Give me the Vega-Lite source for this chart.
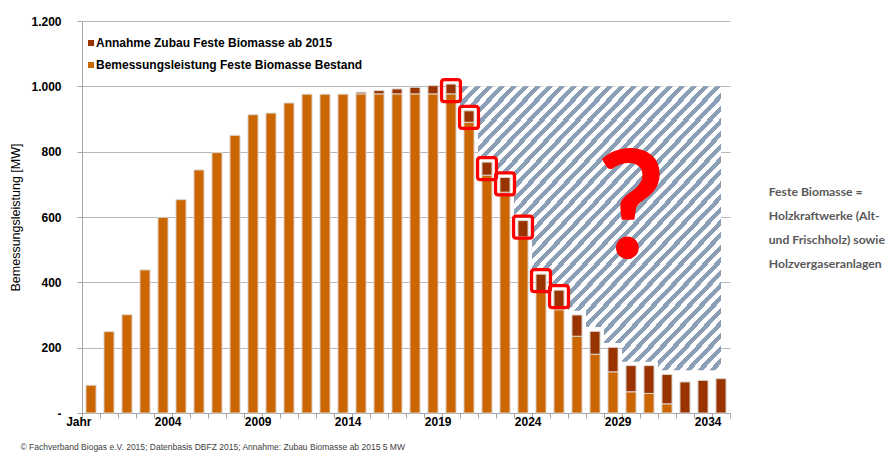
{
  "$schema": "https://vega.github.io/schema/vega-lite/v6.json",
  "width": 648,
  "height": 392,
  "autosize": {"type": "none"},
  "padding": {"left": 82, "top": 21, "right": 161, "bottom": 40},
  "background": "#ffffff",
  "title": {
    "text": ["Feste Biomasse =", "Holzkraftwerke (Alt-", "und Frischholz) sowie", "Holzvergaseranlagen"],
    "orient": "right",
    "angle": 0,
    "anchor": "middle",
    "frame": "group",
    "align": "left",
    "baseline": "middle",
    "offset": 38,
    "dx": -116,
    "dy": -25,
    "lineHeight": 24,
    "limit": 0,
    "font": "Lato",
    "fontSize": 12.2,
    "fontWeight": "bold",
    "color": "#595959"
  },
  "datasets": {
    "biomasse": [
      {"Jahr": 1999, "Bestand": 85, "Zubau": 0},
      {"Jahr": 2000, "Bestand": 249, "Zubau": 0},
      {"Jahr": 2001, "Bestand": 301, "Zubau": 0},
      {"Jahr": 2002, "Bestand": 438, "Zubau": 0},
      {"Jahr": 2003, "Bestand": 599, "Zubau": 0},
      {"Jahr": 2004, "Bestand": 653, "Zubau": 0},
      {"Jahr": 2005, "Bestand": 744, "Zubau": 0},
      {"Jahr": 2006, "Bestand": 797, "Zubau": 0},
      {"Jahr": 2007, "Bestand": 850, "Zubau": 0},
      {"Jahr": 2008, "Bestand": 913, "Zubau": 0},
      {"Jahr": 2009, "Bestand": 918, "Zubau": 0},
      {"Jahr": 2010, "Bestand": 949, "Zubau": 0},
      {"Jahr": 2011, "Bestand": 976, "Zubau": 0},
      {"Jahr": 2012, "Bestand": 976, "Zubau": 0},
      {"Jahr": 2013, "Bestand": 976, "Zubau": 0},
      {"Jahr": 2014, "Bestand": 977, "Zubau": 5},
      {"Jahr": 2015, "Bestand": 977, "Zubau": 10},
      {"Jahr": 2016, "Bestand": 977, "Zubau": 15},
      {"Jahr": 2017, "Bestand": 977, "Zubau": 20},
      {"Jahr": 2018, "Bestand": 977, "Zubau": 25},
      {"Jahr": 2019, "Bestand": 977, "Zubau": 30},
      {"Jahr": 2020, "Bestand": 890, "Zubau": 35},
      {"Jahr": 2021, "Bestand": 728, "Zubau": 40},
      {"Jahr": 2022, "Bestand": 676, "Zubau": 45},
      {"Jahr": 2023, "Bestand": 539, "Zubau": 50},
      {"Jahr": 2024, "Bestand": 370, "Zubau": 55},
      {"Jahr": 2025, "Bestand": 316, "Zubau": 60},
      {"Jahr": 2026, "Bestand": 235, "Zubau": 65},
      {"Jahr": 2027, "Bestand": 180, "Zubau": 70},
      {"Jahr": 2028, "Bestand": 126, "Zubau": 75},
      {"Jahr": 2029, "Bestand": 65, "Zubau": 80},
      {"Jahr": 2030, "Bestand": 60, "Zubau": 85},
      {"Jahr": 2031, "Bestand": 28, "Zubau": 90},
      {"Jahr": 2032, "Bestand": 0, "Zubau": 95},
      {"Jahr": 2033, "Bestand": 0, "Zubau": 100},
      {"Jahr": 2034, "Bestand": 0, "Zubau": 105}
    ],
    "schraffur": [
      {"Jahr": 2019, "unten": 1000},
      {"Jahr": 2020, "unten": 940},
      {"Jahr": 2021, "unten": 782},
      {"Jahr": 2022, "unten": 736},
      {"Jahr": 2023, "unten": 603},
      {"Jahr": 2024, "unten": 440},
      {"Jahr": 2025, "unten": 390},
      {"Jahr": 2026, "unten": 313},
      {"Jahr": 2027, "unten": 263},
      {"Jahr": 2028, "unten": 214},
      {"Jahr": 2029, "unten": 157},
      {"Jahr": 2030, "unten": 157},
      {"Jahr": 2031, "unten": 131},
      {"Jahr": 2032, "unten": 131},
      {"Jahr": 2033, "unten": 131},
      {"Jahr": 2034, "unten": 131}
    ]
  },
  "layer": [
    {
      "data": {"name": "schraffur"},
      "mark": {
        "type": "area",
        "interpolate": "step",
        "color": {
          "gradient": "linear", "x1": 0, "y1": 0, "x2": 1, "y2": 1,
          "stops": [
            {"offset": 0, "color": "#8ba0b6"},
            {"offset": 0.01111, "color": "#8ba0b6"}, {"offset": 0.01111, "color": "#fff"},
            {"offset": 0.02222, "color": "#fff"}, {"offset": 0.02222, "color": "#8ba0b6"},
            {"offset": 0.03333, "color": "#8ba0b6"}, {"offset": 0.03333, "color": "#fff"},
            {"offset": 0.04444, "color": "#fff"}, {"offset": 0.04444, "color": "#8ba0b6"},
            {"offset": 0.05556, "color": "#8ba0b6"}, {"offset": 0.05556, "color": "#fff"},
            {"offset": 0.06667, "color": "#fff"}, {"offset": 0.06667, "color": "#8ba0b6"},
            {"offset": 0.07778, "color": "#8ba0b6"}, {"offset": 0.07778, "color": "#fff"},
            {"offset": 0.08889, "color": "#fff"}, {"offset": 0.08889, "color": "#8ba0b6"},
            {"offset": 0.1, "color": "#8ba0b6"}, {"offset": 0.1, "color": "#fff"},
            {"offset": 0.11111, "color": "#fff"}, {"offset": 0.11111, "color": "#8ba0b6"},
            {"offset": 0.12222, "color": "#8ba0b6"}, {"offset": 0.12222, "color": "#fff"},
            {"offset": 0.13333, "color": "#fff"}, {"offset": 0.13333, "color": "#8ba0b6"},
            {"offset": 0.14444, "color": "#8ba0b6"}, {"offset": 0.14444, "color": "#fff"},
            {"offset": 0.15556, "color": "#fff"}, {"offset": 0.15556, "color": "#8ba0b6"},
            {"offset": 0.16667, "color": "#8ba0b6"}, {"offset": 0.16667, "color": "#fff"},
            {"offset": 0.17778, "color": "#fff"}, {"offset": 0.17778, "color": "#8ba0b6"},
            {"offset": 0.18889, "color": "#8ba0b6"}, {"offset": 0.18889, "color": "#fff"},
            {"offset": 0.2, "color": "#fff"}, {"offset": 0.2, "color": "#8ba0b6"},
            {"offset": 0.21111, "color": "#8ba0b6"}, {"offset": 0.21111, "color": "#fff"},
            {"offset": 0.22222, "color": "#fff"}, {"offset": 0.22222, "color": "#8ba0b6"},
            {"offset": 0.23333, "color": "#8ba0b6"}, {"offset": 0.23333, "color": "#fff"},
            {"offset": 0.24444, "color": "#fff"}, {"offset": 0.24444, "color": "#8ba0b6"},
            {"offset": 0.25556, "color": "#8ba0b6"}, {"offset": 0.25556, "color": "#fff"},
            {"offset": 0.26667, "color": "#fff"}, {"offset": 0.26667, "color": "#8ba0b6"},
            {"offset": 0.27778, "color": "#8ba0b6"}, {"offset": 0.27778, "color": "#fff"},
            {"offset": 0.28889, "color": "#fff"}, {"offset": 0.28889, "color": "#8ba0b6"},
            {"offset": 0.3, "color": "#8ba0b6"}, {"offset": 0.3, "color": "#fff"},
            {"offset": 0.31111, "color": "#fff"}, {"offset": 0.31111, "color": "#8ba0b6"},
            {"offset": 0.32222, "color": "#8ba0b6"}, {"offset": 0.32222, "color": "#fff"},
            {"offset": 0.33333, "color": "#fff"}, {"offset": 0.33333, "color": "#8ba0b6"},
            {"offset": 0.34444, "color": "#8ba0b6"}, {"offset": 0.34444, "color": "#fff"},
            {"offset": 0.35556, "color": "#fff"}, {"offset": 0.35556, "color": "#8ba0b6"},
            {"offset": 0.36667, "color": "#8ba0b6"}, {"offset": 0.36667, "color": "#fff"},
            {"offset": 0.37778, "color": "#fff"}, {"offset": 0.37778, "color": "#8ba0b6"},
            {"offset": 0.38889, "color": "#8ba0b6"}, {"offset": 0.38889, "color": "#fff"},
            {"offset": 0.4, "color": "#fff"}, {"offset": 0.4, "color": "#8ba0b6"},
            {"offset": 0.41111, "color": "#8ba0b6"}, {"offset": 0.41111, "color": "#fff"},
            {"offset": 0.42222, "color": "#fff"}, {"offset": 0.42222, "color": "#8ba0b6"},
            {"offset": 0.43333, "color": "#8ba0b6"}, {"offset": 0.43333, "color": "#fff"},
            {"offset": 0.44444, "color": "#fff"}, {"offset": 0.44444, "color": "#8ba0b6"},
            {"offset": 0.45556, "color": "#8ba0b6"}, {"offset": 0.45556, "color": "#fff"},
            {"offset": 0.46667, "color": "#fff"}, {"offset": 0.46667, "color": "#8ba0b6"},
            {"offset": 0.47778, "color": "#8ba0b6"}, {"offset": 0.47778, "color": "#fff"},
            {"offset": 0.48889, "color": "#fff"}, {"offset": 0.48889, "color": "#8ba0b6"},
            {"offset": 0.5, "color": "#8ba0b6"}, {"offset": 0.5, "color": "#fff"},
            {"offset": 0.51111, "color": "#fff"}, {"offset": 0.51111, "color": "#8ba0b6"},
            {"offset": 0.52222, "color": "#8ba0b6"}, {"offset": 0.52222, "color": "#fff"},
            {"offset": 0.53333, "color": "#fff"}, {"offset": 0.53333, "color": "#8ba0b6"},
            {"offset": 0.54444, "color": "#8ba0b6"}, {"offset": 0.54444, "color": "#fff"},
            {"offset": 0.55556, "color": "#fff"}, {"offset": 0.55556, "color": "#8ba0b6"},
            {"offset": 0.56667, "color": "#8ba0b6"}, {"offset": 0.56667, "color": "#fff"},
            {"offset": 0.57778, "color": "#fff"}, {"offset": 0.57778, "color": "#8ba0b6"},
            {"offset": 0.58889, "color": "#8ba0b6"}, {"offset": 0.58889, "color": "#fff"},
            {"offset": 0.6, "color": "#fff"}, {"offset": 0.6, "color": "#8ba0b6"},
            {"offset": 0.61111, "color": "#8ba0b6"}, {"offset": 0.61111, "color": "#fff"},
            {"offset": 0.62222, "color": "#fff"}, {"offset": 0.62222, "color": "#8ba0b6"},
            {"offset": 0.63333, "color": "#8ba0b6"}, {"offset": 0.63333, "color": "#fff"},
            {"offset": 0.64444, "color": "#fff"}, {"offset": 0.64444, "color": "#8ba0b6"},
            {"offset": 0.65556, "color": "#8ba0b6"}, {"offset": 0.65556, "color": "#fff"},
            {"offset": 0.66667, "color": "#fff"}, {"offset": 0.66667, "color": "#8ba0b6"},
            {"offset": 0.67778, "color": "#8ba0b6"}, {"offset": 0.67778, "color": "#fff"},
            {"offset": 0.68889, "color": "#fff"}, {"offset": 0.68889, "color": "#8ba0b6"},
            {"offset": 0.7, "color": "#8ba0b6"}, {"offset": 0.7, "color": "#fff"},
            {"offset": 0.71111, "color": "#fff"}, {"offset": 0.71111, "color": "#8ba0b6"},
            {"offset": 0.72222, "color": "#8ba0b6"}, {"offset": 0.72222, "color": "#fff"},
            {"offset": 0.73333, "color": "#fff"}, {"offset": 0.73333, "color": "#8ba0b6"},
            {"offset": 0.74444, "color": "#8ba0b6"}, {"offset": 0.74444, "color": "#fff"},
            {"offset": 0.75556, "color": "#fff"}, {"offset": 0.75556, "color": "#8ba0b6"},
            {"offset": 0.76667, "color": "#8ba0b6"}, {"offset": 0.76667, "color": "#fff"},
            {"offset": 0.77778, "color": "#fff"}, {"offset": 0.77778, "color": "#8ba0b6"},
            {"offset": 0.78889, "color": "#8ba0b6"}, {"offset": 0.78889, "color": "#fff"},
            {"offset": 0.8, "color": "#fff"}, {"offset": 0.8, "color": "#8ba0b6"},
            {"offset": 0.81111, "color": "#8ba0b6"}, {"offset": 0.81111, "color": "#fff"},
            {"offset": 0.82222, "color": "#fff"}, {"offset": 0.82222, "color": "#8ba0b6"},
            {"offset": 0.83333, "color": "#8ba0b6"}, {"offset": 0.83333, "color": "#fff"},
            {"offset": 0.84444, "color": "#fff"}, {"offset": 0.84444, "color": "#8ba0b6"},
            {"offset": 0.85556, "color": "#8ba0b6"}, {"offset": 0.85556, "color": "#fff"},
            {"offset": 0.86667, "color": "#fff"}, {"offset": 0.86667, "color": "#8ba0b6"},
            {"offset": 0.87778, "color": "#8ba0b6"}, {"offset": 0.87778, "color": "#fff"},
            {"offset": 0.88889, "color": "#fff"}, {"offset": 0.88889, "color": "#8ba0b6"},
            {"offset": 0.9, "color": "#8ba0b6"}, {"offset": 0.9, "color": "#fff"},
            {"offset": 0.91111, "color": "#fff"}, {"offset": 0.91111, "color": "#8ba0b6"},
            {"offset": 0.92222, "color": "#8ba0b6"}, {"offset": 0.92222, "color": "#fff"},
            {"offset": 0.93333, "color": "#fff"}, {"offset": 0.93333, "color": "#8ba0b6"},
            {"offset": 0.94444, "color": "#8ba0b6"}, {"offset": 0.94444, "color": "#fff"},
            {"offset": 0.95556, "color": "#fff"}, {"offset": 0.95556, "color": "#8ba0b6"},
            {"offset": 0.96667, "color": "#8ba0b6"}, {"offset": 0.96667, "color": "#fff"},
            {"offset": 0.97778, "color": "#fff"}, {"offset": 0.97778, "color": "#8ba0b6"},
            {"offset": 0.98889, "color": "#8ba0b6"}, {"offset": 0.98889, "color": "#fff"},
            {"offset": 1, "color": "#fff"}
          ]
        }
      },
      "encoding": {
        "x": {"field": "Jahr", "type": "ordinal"},
        "y": {"field": "unten", "type": "quantitative"},
        "y2": {"datum": 1000}
      }
    },
    {
      "data": {"name": "biomasse"},
      "transform": [
        {"fold": ["Bestand", "Zubau"], "as": ["Reihe", "MW"]},
        {"filter": "datum.MW > 0"}
      ],
      "mark": {"type": "bar", "width": {"band": 0.56}, "stroke": "#dcd6d0", "strokeWidth": 1},
      "encoding": {
        "x": {
          "field": "Jahr", "type": "ordinal",
          "scale": {"paddingInner": 0, "paddingOuter": 0},
          "axis": {
            "title": "© Fachverband Biogas e.V. 2015; Datenbasis DBFZ 2015; Annahme: Zubau Biomasse ab 2015 5 MW",
            "titleX": -62, "titleY": 33, "titleAlign": "left", "titleBaseline": "middle", "titleAngle": 0,
            "titleFont": "Liberation Sans", "titleFontSize": 8.5, "titleFontWeight": "normal", "titleColor": "#404040",
            "labelAngle": 0,
            "labelOverlap": false,
            "labelExpr": "datum.value == 1999 ? 'Jahr' : (datum.value % 5 == 4 ? '' + datum.value : '')",
            "labelFont": "Liberation Sans", "labelFontSize": 12, "labelFontWeight": "bold", "labelColor": "#000000",
            "labelPadding": 3,
            "tickBand": "extent",
            "tickSize": 5, "tickColor": "#a6a6a6", "domainColor": "#a6a6a6"
          }
        },
        "y": {
          "field": "MW", "type": "quantitative", "stack": "zero",
          "scale": {"domain": [0, 1200], "nice": false},
          "axis": {
            "title": "Bemessungsleistung [MW]",
            "titleX": -67, "titleY": 196, "titleAngle": -90, "titleAlign": "center", "titleBaseline": "middle",
            "titleFont": "Liberation Sans", "titleFontSize": 12.5, "titleFontWeight": "normal", "titleColor": "#000000",
            "values": [0, 200, 400, 600, 800, 1000, 1200],
            "labelExpr": "datum.value == 0 ? '-' : replace(format(datum.value, ','), ',', '.')",
            "labelFont": "Liberation Sans", "labelFontSize": 12, "labelFontWeight": "bold", "labelColor": "#000000",
            "labelPadding": 16,
            "tickSize": 5, "tickColor": "#a6a6a6", "domainColor": "#a6a6a6",
            "grid": true, "gridColor": "#b8b8b8", "gridWidth": 1
          }
        },
        "color": {
          "field": "Reihe", "type": "nominal",
          "scale": {"domain": ["Zubau", "Bestand"], "range": ["#993300", "#cc6600"]},
          "legend": {
            "title": null,
            "orient": "none", "legendX": 3, "legendY": 16,
            "symbolType": "square", "symbolSize": 36, "symbolStrokeWidth": 0,
            "labelExpr": "datum.label == 'Zubau' ? 'Annahme Zubau Feste Biomasse ab 2015' : 'Bemessungsleistung Feste Biomasse Bestand'",
            "labelFont": "Liberation Sans", "labelFontSize": 12, "labelFontWeight": "bold", "labelColor": "#000000",
            "labelLimit": 0,
            "labelOffset": -1, "rowPadding": 10, "padding": 0
          }
        },
        "order": {"field": "Reihe", "sort": "ascending"}
      }
    },
    {
      "data": {"name": "biomasse"},
      "transform": [
        {"filter": "datum.Jahr >= 2019 && datum.Jahr <= 2025"},
        {"fold": ["Bestand", "Zubau"], "as": ["Reihe", "MW"]}
      ],
      "mark": {
        "type": "point",
        "shape": "M-0.6,-1H0.6Q0.86,-1 0.86,-0.74V0.74Q0.86,1 0.6,1H-0.6Q-0.86,1 -0.86,0.74V-0.74Q-0.86,-1 -0.6,-1Z",
        "size": 484,
        "filled": false,
        "stroke": "#ff0000",
        "strokeWidth": 3.3,
        "opacity": 1,
        "yOffset": 6.5
      },
      "encoding": {
        "x": {"field": "Jahr", "type": "ordinal"},
        "y": {"aggregate": "sum", "field": "MW", "type": "quantitative"}
      }
    },
    {
      "data": {"values": [{"Zeichen": "?"}]},
      "mark": {"type": "text", "font": "Lato", "fontWeight": "bold", "fontSize": 150, "color": "#ff0000", "align": "center", "baseline": "alphabetic"},
      "encoding": {
        "x": {"datum": 2029, "type": "ordinal"},
        "y": {"datum": 474, "type": "quantitative"},
        "text": {"field": "Zeichen"}
      }
    }
  ],
  "config": {
    "view": {"stroke": null},
    "axis": {"gridColor": "#b8b8b8"}
  }
}
